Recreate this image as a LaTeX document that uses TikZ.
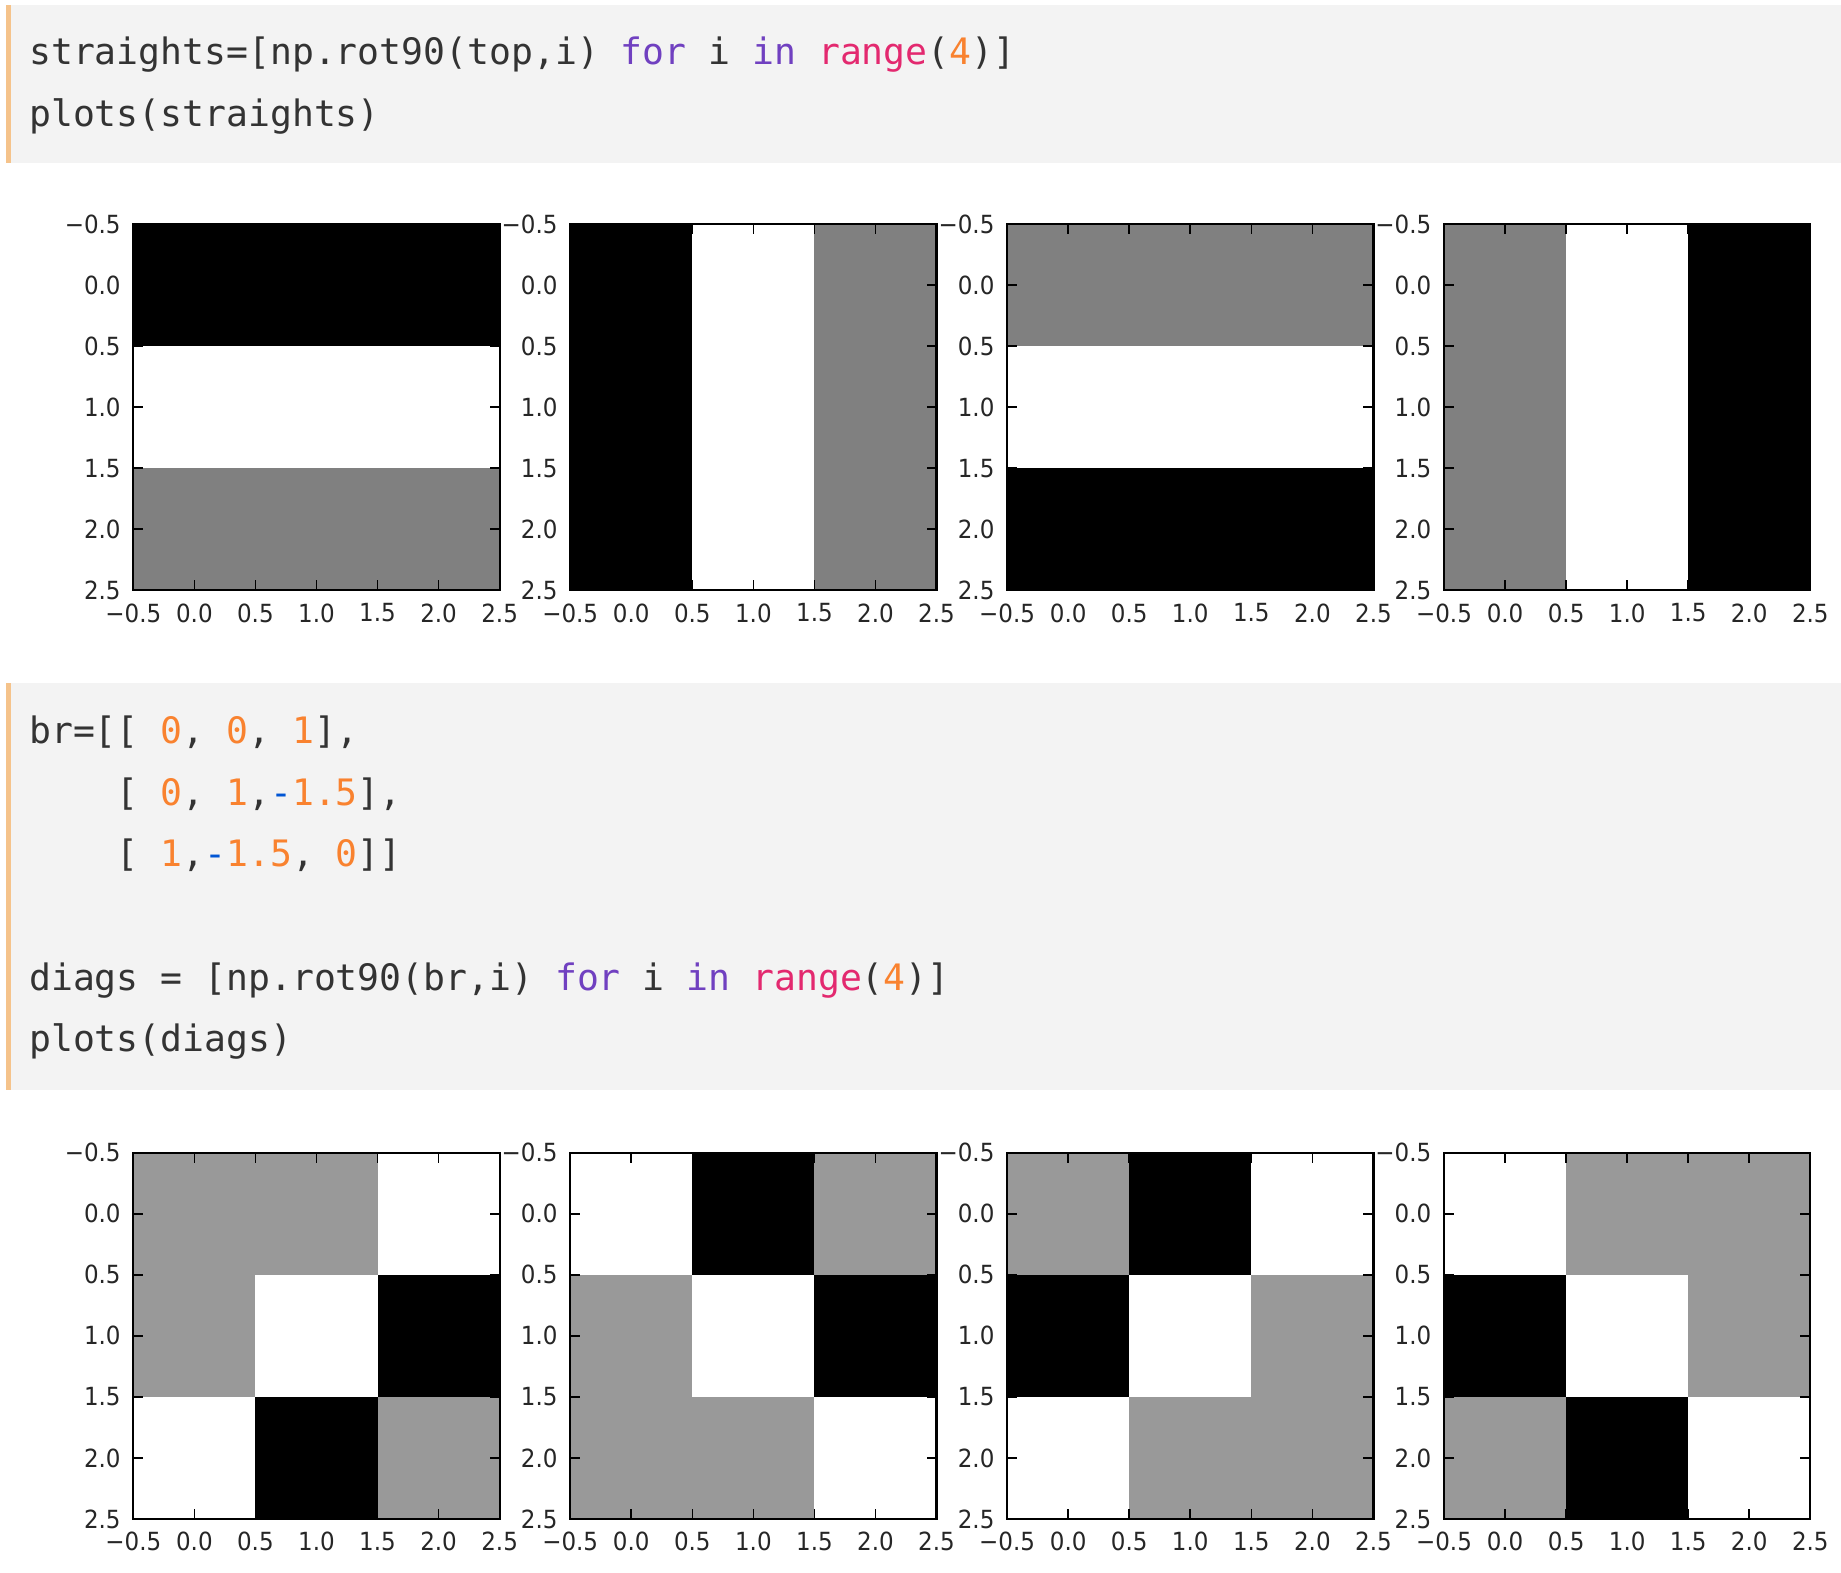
\documentclass[tikz,border=0pt]{standalone}
\usepackage{fontspec}
\setmonofont{DejaVu Sans Mono}
\newfontfamily\ticksfont[FakeStretch=0.92]{DejaVu Sans}
\usetikzlibrary{positioning}

\definecolor{cellbg}{HTML}{F3F3F3}
\definecolor{barorange}{HTML}{F5C38B}
\definecolor{codetxt}{HTML}{333333}
\definecolor{kwpurple}{HTML}{7040C0}
\definecolor{fnpink}{HTML}{E3296F}
\definecolor{numorange}{HTML}{F9822F}
\definecolor{minusblue}{HTML}{0055D4}
\definecolor{gmid}{HTML}{808080}
\definecolor{glight}{HTML}{999999}

\newcommand{\pside}{366.3}
\newcommand{\pcell}{122.1}
\newcommand{\phalf}{61.05}

\tikzset{
  codeline/.style={anchor=base west, inner sep=0pt, text=codetxt,
    font=\ttfamily\fontsize{36.4}{44}\selectfont},
  ticklab/.style={inner sep=0pt, text=black!85, font=\ticksfont\fontsize{25}{28}\selectfont},
  frame/.style={draw=black, line width=2.2pt},
  tickmark/.style={draw=black, line width=1.6pt}
}

% un panel: nombre, izquierda, arriba, colores de las 9 celdas
\newcommand{\drawpanel}[4]{%
  \foreach \col [count=\k from 0] in {#4} {
    \pgfmathtruncatemacro{\rr}{int(\k/3)}
    \pgfmathtruncatemacro{\cc}{mod(\k,3)}
    \fill[\col] ({#2+\cc*\pcell},{#3+\rr*\pcell}) rectangle +(\pcell,\pcell);
  }
  \draw[frame] (#2,#3) rectangle +(\pside,\pside); % marco
  \foreach \v in {1,...,5} {
    \draw[tickmark] ({#2+\v*\phalf},#3) -- ++(0,10); % arriba
    \draw[tickmark] ({#2+\v*\phalf},{#3+\pside}) -- ++(0,-10); % abajo
    \draw[tickmark] (#2,{#3+\v*\phalf}) -- ++(10,0); % izquierda
    \draw[tickmark] ({#2+\pside},{#3+\v*\phalf}) -- ++(-10,0); % derecha
  }
  \foreach \lab [count=\v from 0] in {−0.5,0.0,0.5,1.0,1.5,2.0,2.5} {
    \node[ticklab, anchor=east] (#1y\v) at ({#2-12.5},{#3+\v*\phalf}) {\lab};
    \node[ticklab, anchor=north] (#1x\v) at ({#2+\v*\phalf},{#3+\pside+13}) {\lab};
  }
}

\begin{document}
\begin{tikzpicture}[x=1pt, y=-1pt]
  \useasboundingbox[fill=white] (0,0) rectangle (1841,1572);

  % celda de codigo 1
  \fill[cellbg] (6,5) rectangle (1841,163);
  \fill[barorange] (6,5) rectangle (11,163);
  \node[codeline] (c1a) at (29,64.5) {straights=[np.rot90(top,i) \textcolor{kwpurple}{for} i \textcolor{kwpurple}{in} \textcolor{fnpink}{range}(\textcolor{numorange}{4})]};
  \node[codeline] (c1b) at (29,126) {plots(straights)};

  % fila 1: rectas
  \drawpanel{p1}{133.3}{224}{black,black,black,white,white,white,gmid,gmid,gmid}
  \drawpanel{p2}{570.2}{224}{black,white,gmid,black,white,gmid,black,white,gmid}
  \drawpanel{p3}{1007.1}{224}{gmid,gmid,gmid,white,white,white,black,black,black}
  \drawpanel{p4}{1444}{224}{gmid,white,black,gmid,white,black,gmid,white,black}

  % celda de codigo 2
  \fill[cellbg] (6,683.3) rectangle (1841,1090);
  \fill[barorange] (6,683.3) rectangle (11,1090);
  \node[codeline] (c2a) at (29,743.3) {br=[[ \textcolor{numorange}{0}, \textcolor{numorange}{0}, \textcolor{numorange}{1}],};
  \node[codeline] (c2b) at (116.6,805) {[ \textcolor{numorange}{0}, \textcolor{numorange}{1},\textcolor{minusblue}{-}\textcolor{numorange}{1.5}],};
  \node[codeline] (c2c) at (116.6,866.7) {[ \textcolor{numorange}{1},\textcolor{minusblue}{-}\textcolor{numorange}{1.5}, \textcolor{numorange}{0}]]};
  \node[codeline] (c2d) at (29,990) {diags = [np.rot90(br,i) \textcolor{kwpurple}{for} i \textcolor{kwpurple}{in} \textcolor{fnpink}{range}(\textcolor{numorange}{4})]};
  \node[codeline] (c2e) at (29,1051.7) {plots(diags)};

  % fila 2: diagonales
  \drawpanel{p5}{133.3}{1152.7}{glight,glight,white,glight,white,black,white,black,glight}
  \drawpanel{p6}{570.2}{1152.7}{white,black,glight,glight,white,black,glight,glight,white}
  \drawpanel{p7}{1007.1}{1152.7}{glight,black,white,black,white,glight,white,glight,glight}
  \drawpanel{p8}{1444}{1152.7}{white,glight,glight,black,white,glight,glight,black,white}
\end{tikzpicture}
\end{document}
